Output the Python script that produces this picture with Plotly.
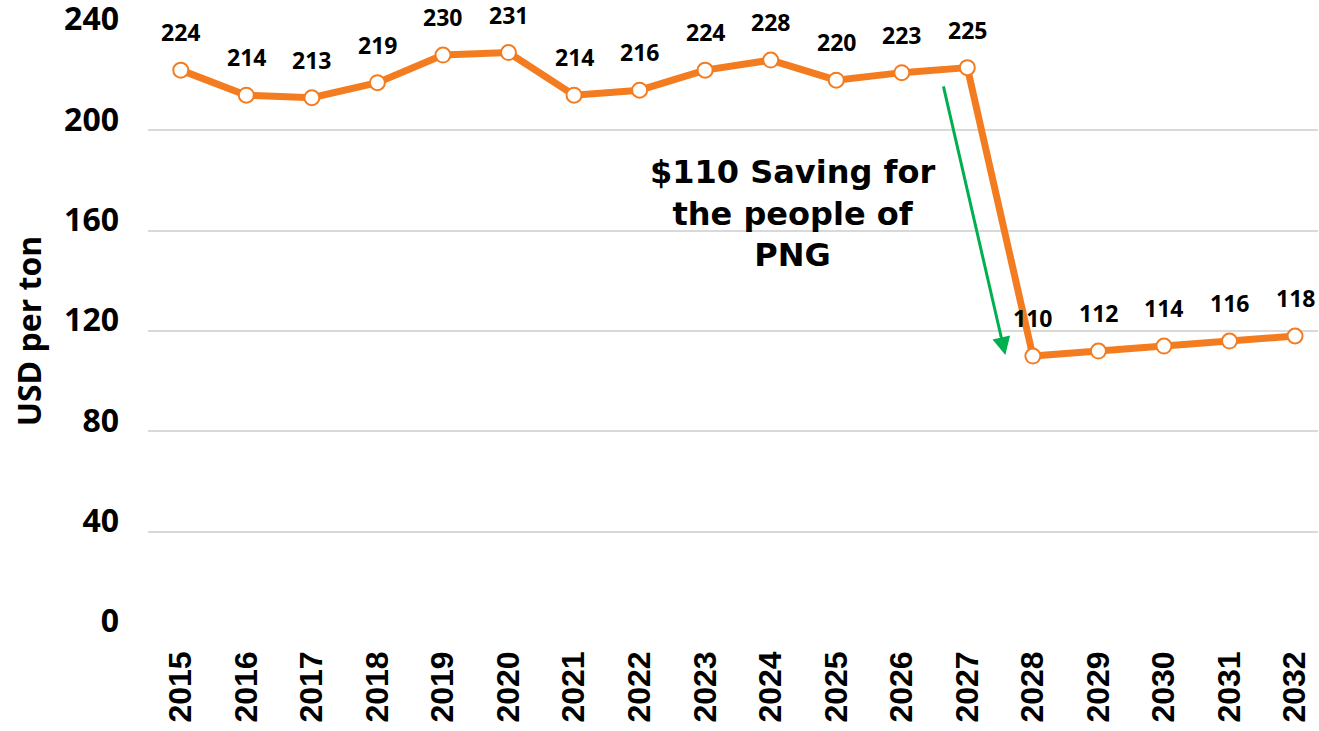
import plotly.graph_objects as go

years = [str(y) for y in range(2015, 2033)]
prices = [224, 214, 213, 219, 230, 231, 214, 216, 224, 228, 220, 223, 225, 110, 112, 114, 116, 118]
y_ticks = [0, 40, 80, 120, 160, 200, 240]

orange = "#F47C20"
font_main = "Open Sans"

fig = go.Figure()
fig.add_trace(go.Scatter(
    x=list(range(len(years))), y=prices, mode="lines+markers",
    line=dict(color=orange, width=7),
    marker=dict(size=15, color="white", line=dict(color=orange, width=2)),
    hoverinfo="y", showlegend=False,
))

annotations = []
for i, v in enumerate(prices):
    annotations.append(dict(
        x=i, y=v, xref="x", yref="y", text="<b>%d</b>" % v, showarrow=False, yshift=38,
        font=dict(family=font_main, size=23, color="black"),
    ))

annotations.append(dict(
    x=9.33, y=167, xref="x", yref="y",
    text="<b>$110 Saving for<br>the people of<br>PNG</b>", showarrow=False,
    font=dict(family="DejaVu Sans", size=32, color="black"),
    align="center",
))
annotations.append(dict(
    x=12.58, y=110.4, ax=11.63, ay=218.1,
    xref="x", yref="y", axref="x", ayref="y",
    text="", showarrow=True, arrowhead=2, arrowsize=1.2, arrowwidth=3,
    arrowcolor="#00B050",
))

fig.update_layout(
    width=1319, height=731,
    margin=dict(l=148, r=1, t=30, b=99),
    plot_bgcolor="white", paper_bgcolor="white",
    annotations=annotations,
    xaxis=dict(
        range=[-0.5, 17.35], showgrid=False, showline=False, zeroline=False,
        tickmode="array", tickvals=list(range(len(years))), ticktext=["<b>%s</b>" % y for y in years],
        tickangle=-90, ticks="", ticklabelstandoff=12, automargin=False,
        tickfont=dict(family="Liberation Sans", size=32, color="black"),
    ),
    yaxis=dict(
        range=[0, 240], tickvals=y_ticks, ticktext=["<b>%d</b>" % t for t in y_ticks],
        showgrid=True, gridcolor="#D9D9D9", gridwidth=2,
        zeroline=False, showline=False, ticks="", ticklen=0, automargin=False,
        ticklabelstandoff=28, ticklabelshift=-11, ticklabeloverflow="allow",
        tickfont=dict(family=font_main, size=32, color="black"),
        title=dict(text="<b>USD per ton</b>", standoff=12,
                   font=dict(family=font_main, size=32, color="black")),
    ),
)

fig.write_html("out.html", config={"displayModeBar": False},
               post_script="document.body.style.margin='0px';")
